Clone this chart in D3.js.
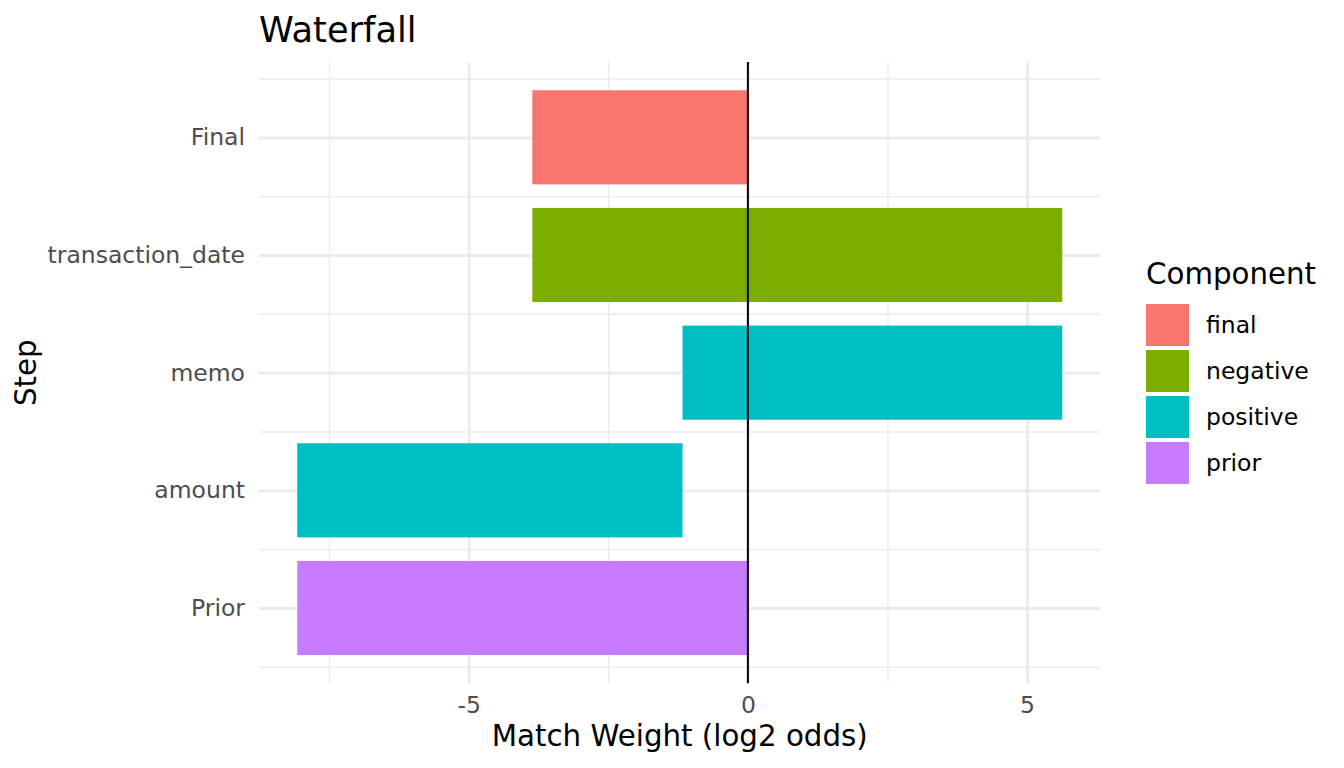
<!DOCTYPE html>
<html>
<head>
<meta charset="utf-8">
<script src="https://cdn.jsdelivr.net/npm/d3@7"></script>
<style>
  body { margin: 0; background: #fff; }
  svg { display: block; font-family: 'DejaVu Sans', sans-serif; }
  .grid line { stroke: #EBEBEB; }
  .grid .domain { display: none; }
  .axis .domain { display: none; }
  .axis text { fill: #4D4D4D; font-size: 23.5px; font-family: 'DejaVu Sans', sans-serif; }
</style>
</head>
<body>
<div id="chart"></div>
<script>
// steps, bottom to top
const steps = ['Prior', 'amount', 'memo', 'transaction_date', 'Final']
const components = ['prior', 'positive', 'positive', 'negative', 'final']
const barStart = [0, -8.07, -1.17, 5.63, 0]
const barEnd = [-8.07, -1.17, 5.63, -3.86, -3.86]

const legendKeys = ['final', 'negative', 'positive', 'prior']
const legendColors = ['#F8766D', '#7CAE00', '#00BFC4', '#C77CFF']

const xMajor = [-5, 0, 5]
const xMinor = [-7.5, -2.5, 2.5]

const width = 1344
const height = 768
const panel = { left: 259, right: 1100.5, top: 62, bottom: 683.3 }

const svg = d3
  .select('#chart')
  .append('svg')
  .attr('width', width)
  .attr('height', height)

const datapoints = steps.map((d, i) => ({
  step: d,
  pos: i + 1,
  component: components[i],
  start: barStart[i],
  end: barEnd[i]
}))

// continuous scales with ggplot-like 5% expansion
const allX = barStart.concat(barEnd)
const xMin = d3.min(allX)
const xMax = d3.max(allX)
const xPad = (xMax - xMin) * 0.05
const xPositionScale = d3
  .scaleLinear()
  .domain([xMin - xPad, xMax + xPad])
  .range([panel.left, panel.right])

const yLo = 1 - 0.4
const yHi = steps.length + 0.4
const yPad = (yHi - yLo) * 0.05
const yPositionScale = d3
  .scaleLinear()
  .domain([yLo - yPad, yHi + yPad])
  .range([panel.bottom, panel.top])

const colorScale = d3.scaleOrdinal().domain(legendKeys).range(legendColors)

const yMinor = d3.range(0, steps.length + 1).map(d => d + 0.5)
const panelH = panel.bottom - panel.top
const panelW = panel.right - panel.left

// grid lines
svg
  .append('g')
  .attr('class', 'grid')
  .attr('transform', 'translate(0,' + panel.bottom + ')')
  .call(d3.axisBottom(xPositionScale).tickValues(xMinor).tickSize(-panelH).tickFormat(''))
  .selectAll('line')
  .attr('stroke-width', 1.4)

svg
  .append('g')
  .attr('class', 'grid')
  .attr('transform', 'translate(' + panel.left + ',0)')
  .call(d3.axisLeft(yPositionScale).tickValues(yMinor).tickSize(-panelW).tickFormat(''))
  .selectAll('line')
  .attr('stroke-width', 1.4)

svg
  .append('g')
  .attr('class', 'grid')
  .attr('transform', 'translate(0,' + panel.bottom + ')')
  .call(d3.axisBottom(xPositionScale).tickValues(xMajor).tickSize(-panelH).tickFormat(''))
  .selectAll('line')
  .attr('stroke-width', 2.8)

svg
  .append('g')
  .attr('class', 'grid')
  .attr('transform', 'translate(' + panel.left + ',0)')
  .call(d3.axisLeft(yPositionScale).tickValues(datapoints.map(d => d.pos)).tickSize(-panelW).tickFormat(''))
  .selectAll('line')
  .attr('stroke-width', 2.8)

svg.selectAll('.grid text').remove()

// bars
svg
  .selectAll('.bar')
  .data(datapoints)
  .enter()
  .append('rect')
  .attr('class', 'bar')
  .attr('x', d => xPositionScale(Math.min(d.start, d.end)))
  .attr('width', d => Math.abs(xPositionScale(d.end) - xPositionScale(d.start)))
  .attr('y', d => yPositionScale(d.pos + 0.4))
  .attr('height', d => yPositionScale(d.pos - 0.4) - yPositionScale(d.pos + 0.4))
  .attr('fill', d => colorScale(d.component))

// zero line
svg
  .append('line')
  .attr('x1', xPositionScale(0))
  .attr('x2', xPositionScale(0))
  .attr('y1', panel.top)
  .attr('y2', panel.bottom)
  .attr('stroke', '#000')
  .attr('stroke-width', 2)

// axes
svg
  .append('g')
  .attr('class', 'axis x-axis')
  .attr('transform', 'translate(0,' + panel.bottom + ')')
  .call(
    d3
      .axisBottom(xPositionScale)
      .tickValues(xMajor)
      .tickFormat(d => String(d))
      .tickSize(0)
      .tickPadding(13)
  )
  .attr('font-family', null)
  .attr('font-size', null)

svg
  .append('g')
  .attr('class', 'axis y-axis')
  .attr('transform', 'translate(' + panel.left + ',0)')
  .call(
    d3
      .axisLeft(yPositionScale)
      .tickValues(datapoints.map(d => d.pos))
      .tickFormat(d => steps[d - 1])
      .tickSize(0)
      .tickPadding(14)
  )
  .attr('font-family', null)
  .attr('font-size', null)

// titles
svg
  .append('text')
  .text('Waterfall')
  .attr('x', panel.left)
  .attr('y', 41.5)
  .attr('font-size', 35.2)
  .attr('fill', '#000')

svg
  .append('text')
  .text('Match Weight (log2 odds)')
  .attr('text-anchor', 'middle')
  .attr('x', (panel.left + panel.right) / 2)
  .attr('y', 746)
  .attr('font-size', 29.3)
  .attr('fill', '#000')

svg
  .append('text')
  .text('Step')
  .attr('text-anchor', 'middle')
  .attr('transform', 'translate(36,' + (panel.top + panel.bottom) / 2 + ') rotate(-90)')
  .attr('font-size', 29.3)
  .attr('fill', '#000')

// legend
const legend = svg.append('g').attr('transform', 'translate(1146,0)')

legend
  .append('text')
  .text('Component')
  .attr('x', 0)
  .attr('y', 284)
  .attr('font-size', 29.3)
  .attr('fill', '#000')

const keys = legend
  .selectAll('.key')
  .data(legendKeys)
  .enter()
  .append('g')
  .attr('class', 'key')
  .attr('transform', (d, i) => 'translate(0,' + (304 + i * 46) + ')')

keys
  .append('rect')
  .attr('width', 43)
  .attr('height', 42)
  .attr('fill', d => colorScale(d))

keys
  .append('text')
  .text(d => d)
  .attr('x', 60)
  .attr('y', 21)
  .attr('dy', '0.35em')
  .attr('font-size', 23.5)
  .attr('fill', '#000')
</script>
</body>
</html>
